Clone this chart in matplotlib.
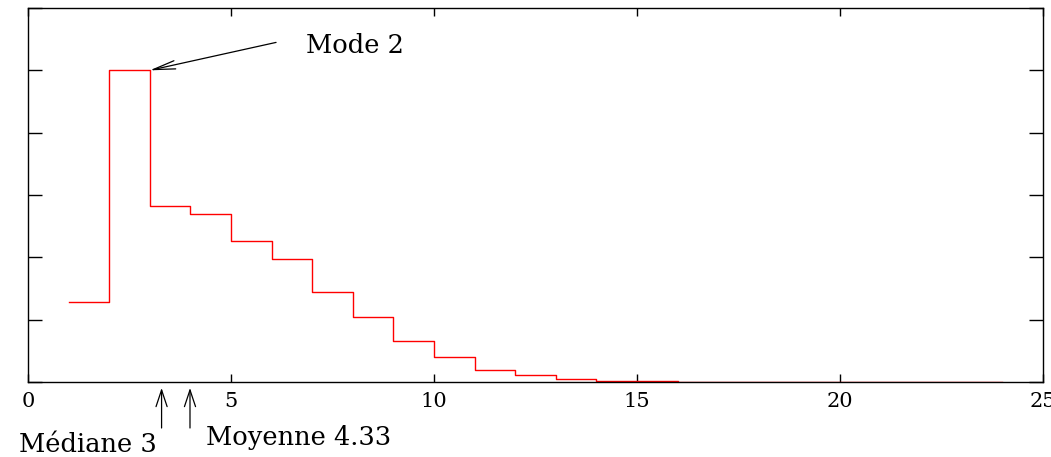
import matplotlib
matplotlib.use("Agg")
import matplotlib.pyplot as plt
import numpy as np

# Data: probability of each value k (step drawn from k to k+1)
k_values = list(range(1, 24))
probabilities = [0.0641, 0.25, 0.141, 0.1345, 0.113, 0.0985, 0.072, 0.052,
                 0.033, 0.020, 0.0095, 0.0055, 0.0022, 0.001, 0.0007,
                 0.0, 0.0, 0.0, 0.0, 0.0, 0.0, 0.0, 0.0]
x_ticks = [0, 5, 10, 15, 20, 25]
y_ticks = [0, 0.05, 0.10, 0.15, 0.20, 0.25, 0.30]

mode_label = "Mode 2"
median_label = "Médiane 3"
mean_label = "Moyenne 4.33"
mode_point = (3.0, 0.25)
median_arrow_x = 3.29
mean_arrow_x = 3.99

plt.rcParams['font.family'] = ['DejaVu Serif']

fig = plt.figure(figsize=(10.51, 4.57), dpi=100)
ax = fig.add_axes([28/1051, 1-382/457, 1015/1051, 374/457])

xs = k_values + [k_values[-1] + 1]
ys = probabilities + [probabilities[-1]]
ax.step(xs, ys, where='post', color='red', linewidth=1.0)

ax.set_xlim(0, 25)
ax.set_ylim(0, 0.30)
ax.set_xticks(x_ticks)
ax.set_xticklabels([str(t) for t in x_ticks])
ax.set_yticks(y_ticks)
ax.set_yticklabels([])
ax.tick_params(axis='x', direction='in', length=5.8, width=1.0, top=True,
               labelsize=15, pad=7, colors='black')
ax.tick_params(axis='y', direction='in', length=10, width=1.0, right=True,
               left=True, labelleft=False)
for s in ax.spines.values():
    s.set_linewidth(1.0)
    s.set_color('black')

# Mode annotation
ax.annotate("", xy=mode_point, xytext=(6.11, 0.2724),
            arrowprops=dict(arrowstyle='->,head_length=1.6,head_width=0.3',
                            color='black', lw=0.9, shrinkA=0, shrinkB=0,
                            mutation_scale=10))
ax.text(6.85, 0.2700, mode_label, fontsize=18.5, va='center', ha='left')

# Median and mean arrows below axis
for xa in (median_arrow_x, mean_arrow_x):
    ax.annotate("", xy=(xa, -0.0048), xytext=(xa, -0.0369),
                annotation_clip=False,
                arrowprops=dict(arrowstyle='->,head_length=1.2,head_width=0.4',
                                color='black', lw=0.9, shrinkA=0, shrinkB=0,
                                mutation_scale=10))

fig.text(19/1051, 1-452/457, median_label, fontsize=18.5, ha='left', va='baseline')
fig.text(206/1051, 1-445/457, mean_label, fontsize=18.5, ha='left', va='baseline')

fig.savefig("out.png", dpi=100)
